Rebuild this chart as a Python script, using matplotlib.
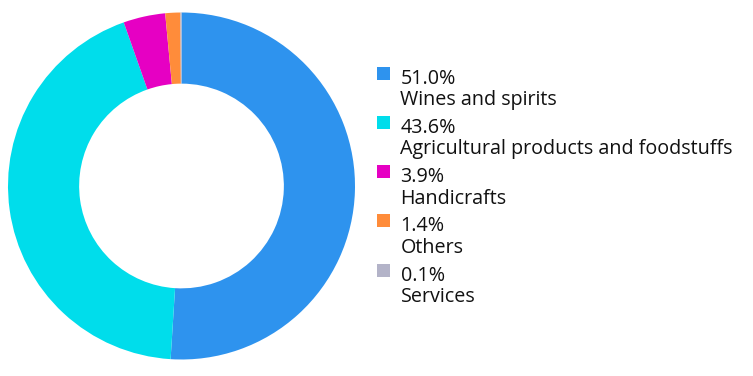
import matplotlib.pyplot as plt
from matplotlib.patches import Rectangle

plt.rcParams['font.family'] = ['Open Sans', 'DejaVu Sans']

# data
categories = ["Wines and spirits", "Agricultural products and foodstuffs",
              "Handicrafts", "Others", "Services"]
shares = [51.0, 43.6, 3.9, 1.4, 0.1]
colors = ["#2E93EE", "#00DDEB", "#E600C3", "#FF8C3A", "#B3B3C8"]

W, H = 753, 376
fig = plt.figure(figsize=(W / 100, H / 100), dpi=100)

# donut: centre (181.5, 186) px, outer radius 173.5 px
cx, cy, r = 181.5, 186, 173.5
ax = fig.add_axes([(cx - r) / W, (H - cy - r) / H, 2 * r / W, 2 * r / H])
ax.pie(shares, colors=colors, startangle=90, counterclock=False, radius=1,
       wedgeprops=dict(width=0.41, linewidth=0))
ax.set_xlim(-1, 1)
ax.set_ylim(-1, 1)
ax.set_aspect('equal')
ax.axis('off')

# legend drawn by hand
sq_x, sq_top, sq = 377, 66.5, 13
txt_x, base1, base2 = 400.5, 83.5, 105
step = 49.3
for i, (cat, val, col) in enumerate(zip(categories, shares, colors)):
    dy = i * step
    fig.patches.append(Rectangle((sq_x / W, 1 - (sq_top + dy + sq) / H), sq / W, sq / H,
                                 transform=fig.transFigure, color=col, linewidth=0))
    fig.text(txt_x / W, 1 - (base1 + dy) / H, f"{val:.1f}%", fontsize=14.2,
             color="#111111", va='baseline', ha='left')
    fig.text(txt_x / W, 1 - (base2 + dy) / H, cat, fontsize=14.2,
             color="#111111", va='baseline', ha='left')

fig.savefig("out.png", dpi=100)
